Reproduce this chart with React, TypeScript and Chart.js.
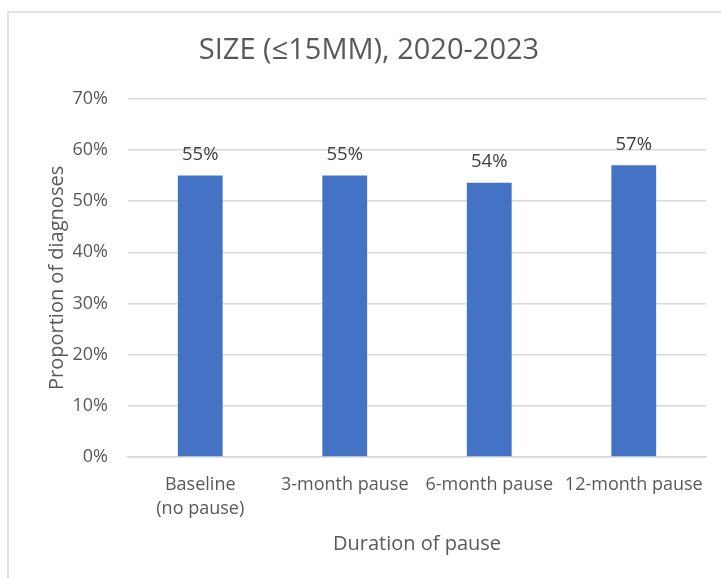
import React, { useEffect, useRef } from "react";
import { Chart, registerables } from "chart.js";

Chart.register(...registerables);

const categories: (string | string[])[] = [
  ["Baseline", "(no pause)"],
  "3-month pause",
  "6-month pause",
  "12-month pause",
];
const proportions = [55, 55, 53.6, 57];
const yTicks = [0, 10, 20, 30, 40, 50, 60, 70];

const chartTitle = "SIZE (≤15MM), 2020-2023";
const yTitle = "Proportion of diagnoses";
const xTitle = "Duration of pause";

const FONT = "'Open Sans', 'Noto Sans', sans-serif";
const BAR = "#4472C4";
const TEXT = "#595959";
const GRID = "#d9d9d9";

// Thin grey frame around the chart, as in an office chart object
const framePlugin = {
  id: "frame",
  beforeDraw(chart: any) {
    const ctx = chart.ctx;
    ctx.save();
    ctx.strokeStyle = "#d9d9d9";
    ctx.lineWidth = 1.5;
    ctx.strokeRect(8, 12, chart.width + 20, chart.height + 20);
    ctx.restore();
  },
};

// Percentage label above each bar
const valueLabels = {
  id: "valueLabels",
  afterDatasetsDraw(chart: any) {
    const ctx = chart.ctx;
    const meta = chart.getDatasetMeta(0);
    ctx.save();
    ctx.font = `18.5px ${FONT}`;
    ctx.fillStyle = "#404040";
    ctx.textAlign = "center";
    ctx.textBaseline = "middle";
    meta.data.forEach((bar: any, i: number) => {
      ctx.fillText(`${Math.round(proportions[i])}%`, bar.x, bar.y - 21);
    });
    ctx.restore();
  },
};

export default function App() {
  const ref = useRef<HTMLCanvasElement>(null);

  useEffect(() => {
    if (!ref.current) return;
    const chart = new Chart(ref.current, {
      type: "bar",
      data: {
        labels: categories,
        datasets: [
          {
            data: proportions,
            backgroundColor: BAR,
            borderWidth: 0,
            categoryPercentage: 1,
            barPercentage: 0.31,
          },
        ],
      },
      options: {
        animation: false,
        responsive: false,
        layout: { padding: { left: 32, right: 15, top: 0, bottom: 0 } },
        plugins: {
          legend: { display: false },
          tooltip: { enabled: false },
          title: {
            display: true,
            text: chartTitle,
            color: TEXT,
            font: { family: FONT, size: 29, weight: "normal", lineHeight: 1.2 },
            padding: { top: 33, bottom: 31 },
          },
        },
        scales: {
          x: {
            grid: { display: false, drawTicks: false },
            border: { display: true, color: GRID, width: 1.5 },
            ticks: {
              color: TEXT,
              font: { family: FONT, size: 18, lineHeight: 1.333 },
              padding: 16,
              maxRotation: 0,
              autoSkip: false,
            },
            title: {
              display: true,
              text: xTitle,
              color: TEXT,
              font: { family: FONT, size: 20, lineHeight: 1.2 },
              padding: { top: 0, bottom: 22 },
            },
            afterFit(s: any) {
              s.height = 121;
            },
          },
          y: {
            min: 0,
            max: 70,
            afterBuildTicks(s: any) {
              s.ticks = yTicks.map((v) => ({ value: v }));
            },
            grid: { color: GRID, lineWidth: 1.5, drawTicks: false },
            border: { display: false },
            ticks: {
              color: TEXT,
              font: { family: FONT, size: 18 },
              padding: 20,
              callback: (v: any) => `${v}%`,
            },
            title: {
              display: true,
              text: yTitle,
              color: TEXT,
              font: { family: FONT, size: 20, lineHeight: 1.2 },
              padding: { top: 13, bottom: 0 },
            },
            afterFit(s: any) {
              s.width = 96;
            },
          },
        },
      },
      plugins: [framePlugin, valueLabels],
    });
    return () => chart.destroy();
  }, []);

  return (
    <canvas
      ref={ref}
      width={721}
      height={578}
      style={{ position: "absolute", left: 0, top: 0, width: 721, height: 578 }}
    />
  );
}
